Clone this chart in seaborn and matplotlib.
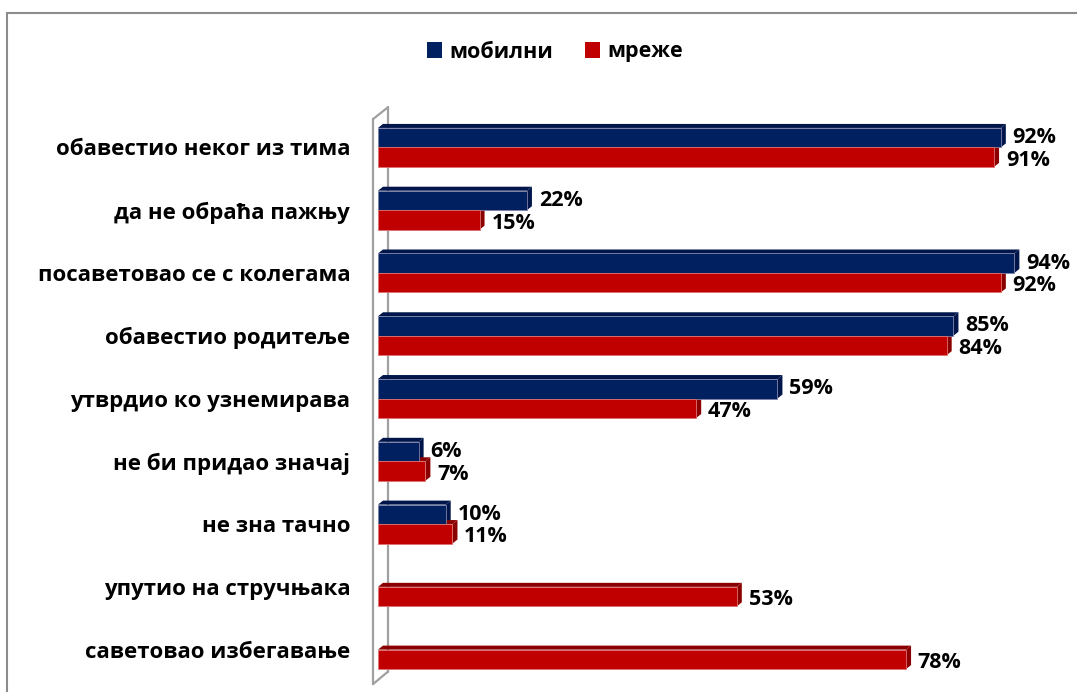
import matplotlib
matplotlib.use("Agg")
import matplotlib.pyplot as plt
import pandas as pd
import seaborn as sns
from matplotlib.patches import Polygon, Patch
from matplotlib.lines import Line2D

# data
categories = ["обавестио неког из тима", "да не обраћа пажњу", "посаветовао се с колегама",
              "обавестио родитеље", "утврдио ко узнемирава", "не би придао значај",
              "не зна тачно", "упутио на стручњака", "саветовао избегавање"]
mobilni = [92, 22, 94, 85, 59, 6, 10, None, None]
mreze = [91, 15, 92, 84, 47, 7, 11, 53, 78]
series = ["мобилни", "мреже"]

front = {"мобилни": "#002060", "мреже": "#C00000"}
dark = {"мобилни": "#00154a", "мреже": "#8a0000"}

df = pd.DataFrame({"cat": categories * 2,
                   "series": ["мобилни"] * len(categories) + ["мреже"] * len(categories),
                   "value": mobilni + mreze})
df = df.dropna()

sns.set_theme(style="white")
plt.rcParams["font.family"] = ["Open Sans", "DejaVu Sans"]

fig = plt.figure(figsize=(10.77, 6.92), dpi=100)
ax = fig.add_axes([378 / 1077, 11 / 692, 677 / 1077, 565 / 692])

sns.barplot(data=df, y="cat", x="value", hue="series", order=categories,
            hue_order=series, palette=front, orient="h", width=0.62,
            saturation=1, legend=False, ax=ax, zorder=3)

ax.set_xlim(0, 100)
ax.set_ylim(8.5, -0.5)
ax.set_xlabel("")
ax.set_ylabel("")
ax.set_xticks([])
for s in ax.spines.values():
    s.set_visible(False)
ax.tick_params(axis="y", length=0, pad=20)
for t in ax.get_yticklabels():
    t.set_fontsize(16)
    t.set_fontweight("bold")
    t.set_color("black")

# 3D depth in data units (about 5 px right and up)
dx = 5 / 6.77
dy = -4 / 62.8

bars = [p for p in ax.patches if p.get_width() > 0]
for p in bars:
    fc = p.get_facecolor()
    key = "мобилни" if fc[2] > fc[0] else "мреже"
    x0, y0 = p.get_x(), p.get_y()
    w, h = p.get_width(), p.get_height()
    top = y0  # inverted axis: y0 is the top edge
    ax.add_patch(Polygon([(x0, top), (x0 + dx, top + dy), (x0 + w + dx, top + dy), (x0 + w, top)],
                         closed=True, fc=dark[key], ec="none", zorder=2))
    ax.add_patch(Polygon([(x0 + w, top), (x0 + w + dx, top + dy), (x0 + w + dx, top + h + dy), (x0 + w, top + h)],
                         closed=True, fc=dark[key], ec="none", zorder=2))
    p.set_edgecolor("#8080a8" if key == "мобилни" else "#e07070")
    p.set_linewidth(0.6)
    p.set_zorder(3)
    va_off = 0.0 if key == "мобилни" else 0.05
    ax.text(x0 + w + dx + 1.0, y0 + h / 2 + va_off, f"{w:.0f}%", va="center", ha="left",
            fontsize=15.5, fontweight="bold", color="black", zorder=5)

# wall of the 3D chart
wl = (373 - 378) / 6.77
wr = (388 - 378) / 6.77
wall = dict(color="#a0a0a0", lw=1.6, clip_on=False, zorder=1)
ax.plot([wl, wl], [-0.45, 8.55], **wall)
ax.plot([wr, wr], [-0.64, 8.35], **wall)
ax.plot([wl, wr], [-0.45, -0.64], **wall)
ax.plot([wl, wr], [8.55, 8.35], **wall)

# legend
handles = [Patch(facecolor=front[s], edgecolor="none", label=s) for s in series]
leg = fig.legend(handles=handles, loc="center", bbox_to_anchor=(555 / 1077, 1 - 52 / 692),
                 ncol=2, frameon=False, handlelength=0.7, handleheight=0.7,
                 handletextpad=0.35, columnspacing=1.5, prop={"size": 15.5, "weight": "bold"})
for t in leg.get_texts():
    t.set_color("black")

# outer frame
fig.add_artist(Line2D([7 / 1077, 7 / 1077], [0, 1 - 13 / 692], transform=fig.transFigure,
                      color="#8c8c8c", lw=1.5))
fig.add_artist(Line2D([7 / 1077, 1], [1 - 13 / 692, 1 - 13 / 692], transform=fig.transFigure,
                      color="#8c8c8c", lw=1.5))

fig.savefig("out.png", dpi=100, facecolor="white")
